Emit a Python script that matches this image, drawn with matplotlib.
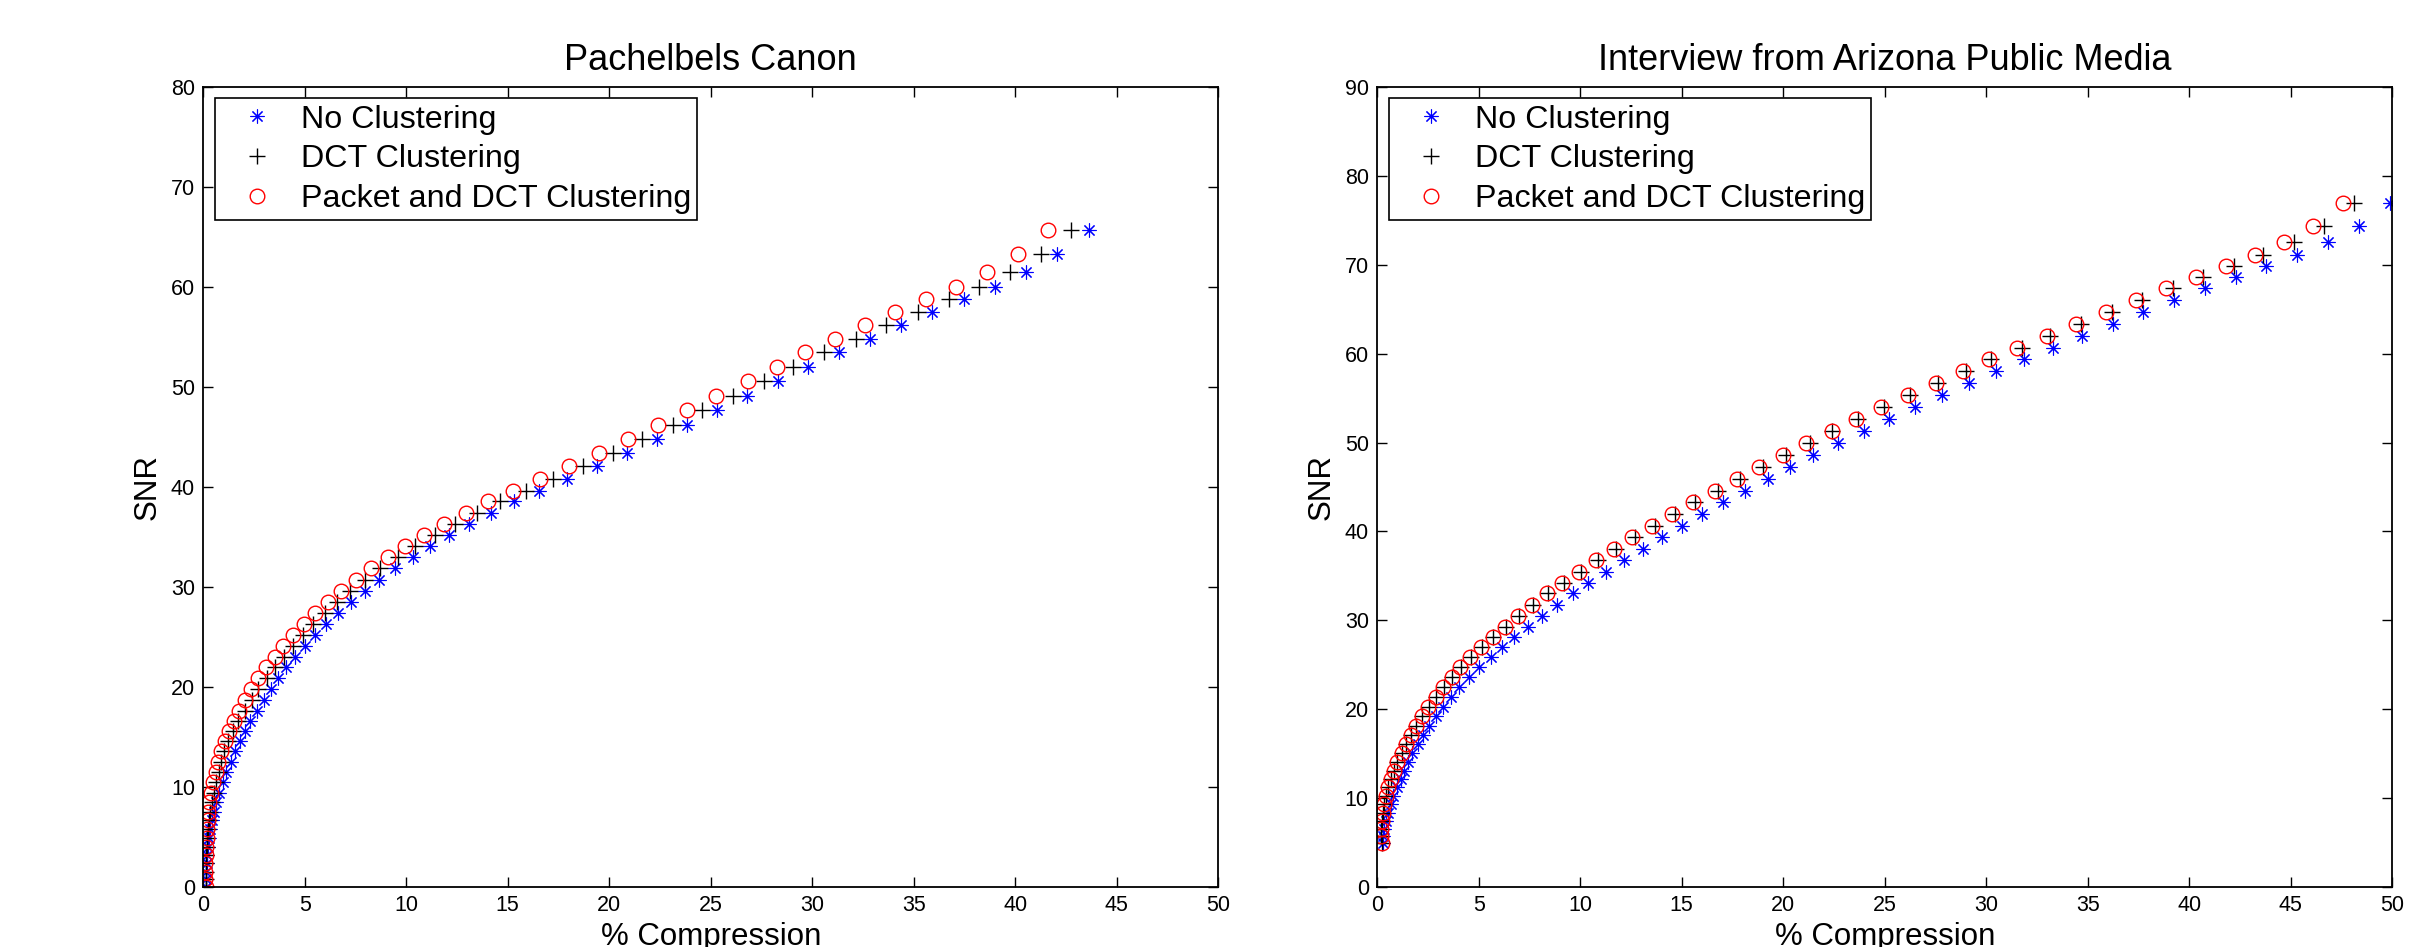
import numpy as np
import matplotlib
matplotlib.use("Agg")
import matplotlib.pyplot as plt

plt.rcParams['font.family'] = ['Liberation Sans', 'DejaVu Sans']

# ---- Pachelbels Canon (left) ----
left_snr = [0.0, 0.8, 1.5, 2.4, 3.2, 4.0, 4.9, 5.8, 6.7, 7.5,
            8.5, 9.4, 10.5, 11.5, 12.5, 13.6, 14.6, 15.6, 16.6, 17.6,
            18.7, 19.8, 20.9, 22.0, 23.0, 24.1, 25.2, 26.3, 27.4, 28.5,
            29.6, 30.7, 31.9, 33.0, 34.1, 35.2, 36.3, 37.4, 38.6, 39.6,
            40.8, 42.1, 43.4, 44.8, 46.2, 47.7, 49.1, 50.6, 52.0, 53.5,
            54.8, 56.2, 57.5, 58.8, 60.0, 61.5, 63.3, 65.7]
left_none = [0.15, 0.15, 0.16, 0.18, 0.21, 0.25, 0.29, 0.35, 0.42, 0.52,
             0.65, 0.80, 0.95, 1.13, 1.36, 1.58, 1.80, 2.05, 2.30, 2.63,
             2.98, 3.34, 3.70, 4.10, 4.52, 5.01, 5.52, 6.06, 6.66, 7.27,
             7.97, 8.66, 9.44, 10.32, 11.17, 12.12, 13.10, 14.16, 15.31, 16.54,
             17.90, 19.38, 20.88, 22.35, 23.81, 25.30, 26.79, 28.31, 29.81, 31.33,
             32.86, 34.39, 35.88, 37.45, 38.99, 40.54, 42.07, 43.64]
left_dct = [0.12, 0.12, 0.13, 0.14, 0.16, 0.18, 0.20, 0.24, 0.28, 0.34,
            0.42, 0.52, 0.64, 0.76, 0.88, 1.03, 1.23, 1.45, 1.72, 2.05,
            2.38, 2.72, 3.12, 3.53, 3.98, 4.43, 4.90, 5.43, 6.00, 6.60,
            7.23, 7.97, 8.70, 9.61, 10.43, 11.41, 12.40, 13.47, 14.62, 15.90,
            17.24, 18.69, 20.16, 21.60, 23.12, 24.55, 26.08, 27.61, 29.06, 30.57,
            32.13, 33.64, 35.21, 36.72, 38.23, 39.74, 41.25, 42.76]
left_packet = [0.12, 0.10, 0.10, 0.10, 0.12, 0.13, 0.17, 0.18, 0.22, 0.25,
               0.28, 0.38, 0.49, 0.61, 0.73, 0.90, 1.06, 1.25, 1.50, 1.75,
               2.05, 2.37, 2.72, 3.10, 3.53, 3.92, 4.43, 4.96, 5.53, 6.16,
               6.77, 7.51, 8.26, 9.09, 9.95, 10.87, 11.86, 12.93, 14.04, 15.27,
               16.58, 18.03, 19.50, 20.94, 22.40, 23.82, 25.28, 26.81, 28.28, 29.63,
               31.13, 32.61, 34.08, 35.60, 37.09, 38.60, 40.11, 41.62]

# ---- Interview from Arizona Public Media (right) ----
right_snr = [4.9, 5.7, 6.55, 7.45, 8.33, 9.28, 10.24, 11.2, 12.12, 13.03,
             14.04, 15.02, 16.07, 17.08, 18.13, 19.18, 20.27, 21.32, 22.45, 23.57,
             24.7, 25.85, 26.97, 28.09, 29.28, 30.52, 31.72, 33.04, 34.23, 35.47,
             36.78, 38.02, 39.34, 40.64, 41.96, 43.27, 44.58, 45.93, 47.21, 48.6,
             49.91, 51.3, 52.65, 54.03, 55.35, 56.66, 58.05, 59.36, 60.67, 61.98,
             63.33, 64.65, 66.03, 67.35, 68.66, 69.9, 71.1, 72.6, 74.4, 76.92]
right_none = [0.27, 0.30, 0.36, 0.43, 0.54, 0.66, 0.79, 0.96, 1.15, 1.33,
              1.53, 1.74, 1.99, 2.27, 2.55, 2.88, 3.22, 3.62, 4.04, 4.52,
              5.01, 5.59, 6.16, 6.74, 7.44, 8.10, 8.87, 9.63, 10.40, 11.27,
              12.16, 13.11, 14.02, 15.00, 15.99, 17.05, 18.12, 19.24, 20.34, 21.49,
              22.72, 24.00, 25.19, 26.49, 27.81, 29.14, 30.46, 31.87, 33.27, 34.74,
              36.25, 37.73, 39.26, 40.77, 42.30, 43.78, 45.29, 46.82, 48.37, 49.87]
right_dct = [0.23, 0.17, 0.18, 0.22, 0.27, 0.33, 0.42, 0.54, 0.67, 0.83,
             1.00, 1.21, 1.43, 1.67, 1.93, 2.22, 2.54, 2.91, 3.28, 3.70,
             4.13, 4.62, 5.15, 5.73, 6.36, 7.00, 7.70, 8.42, 9.20, 10.03,
             10.88, 11.76, 12.68, 13.67, 14.67, 15.68, 16.79, 17.87, 19.00, 20.16,
             21.30, 22.40, 23.68, 24.96, 26.23, 27.61, 28.98, 30.26, 31.77, 33.15,
             34.68, 36.19, 37.69, 39.20, 40.67, 42.18, 43.61, 45.15, 46.62, 48.10]
right_packet = [0.23, 0.17, 0.18, 0.22, 0.27, 0.33, 0.42, 0.54, 0.66, 0.82,
                0.99, 1.20, 1.41, 1.65, 1.91, 2.20, 2.51, 2.88, 3.25, 3.67,
                4.10, 4.58, 5.11, 5.69, 6.31, 6.95, 7.64, 8.35, 9.12, 9.94,
                10.79, 11.66, 12.57, 13.55, 14.54, 15.54, 16.64, 17.71, 18.83, 19.98,
                21.14, 22.38, 23.61, 24.84, 26.14, 27.51, 28.85, 30.12, 31.54, 32.97,
                34.42, 35.92, 37.39, 38.87, 40.34, 41.79, 43.23, 44.66, 46.12, 47.55]

labels = ["No Clustering", "DCT Clustering", "Packet and DCT Clustering"]


def draw_panel(ax, title, snr, none, dct, packet, ymax):
    ax.plot(none, snr, linestyle='none', marker=(8, 2, 0), color='#0000ff',
            markersize=10, markeredgewidth=0.8, label=labels[0])
    ax.plot(dct, snr, linestyle='none', marker='+', color='black',
            markersize=12, markeredgewidth=1.0, label=labels[1])
    ax.plot(packet, snr, linestyle='none', marker='o', markerfacecolor='none',
            markeredgecolor='#ff0000', markersize=10.5, markeredgewidth=1.0,
            label=labels[2])

    ax.set_xlim(0, 50)
    ax.set_ylim(0, ymax)
    ax.set_xticks(np.arange(0, 51, 5))
    ax.set_yticks(np.arange(0, ymax + 1, 10))
    ax.tick_params(direction='in', top=True, right=True, length=7, width=1,
                   labelsize=15.5, pad=6)
    for s in ax.spines.values():
        s.set_linewidth(1.3)

    ax.set_title(title, fontsize=26, pad=12)
    ax.set_ylabel("SNR", fontsize=22.5, labelpad=6)
    ax.set_xlabel("% Compression", fontsize=22.5, labelpad=4)

    leg = ax.legend(loc='upper left', bbox_to_anchor=(0.0118, 0.986),
                    borderaxespad=0, fontsize=23.2, fancybox=False,
                    framealpha=1, edgecolor='black', handlelength=2.2,
                    handletextpad=0.25, borderpad=0.2, labelspacing=0.3)
    leg.get_frame().set_linewidth(1.2)


fig = plt.figure(figsize=(24.25, 9.47), dpi=100)
ax1 = fig.add_axes([0.0838, 0.0634, 0.4186, 0.8448])
ax2 = fig.add_axes([0.5679, 0.0634, 0.4186, 0.8448])

draw_panel(ax1, "Pachelbels Canon", left_snr, left_none, left_dct, left_packet, 80)
draw_panel(ax2, "Interview from Arizona Public Media", right_snr, right_none,
           right_dct, right_packet, 90)

fig.savefig("out.png", dpi=100)
